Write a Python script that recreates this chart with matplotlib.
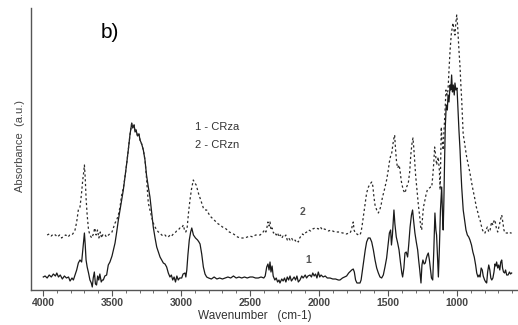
import matplotlib
matplotlib.use('Agg')
import matplotlib.pyplot as plt
from matplotlib.ticker import MultipleLocator

plt.rcParams['font.family'] = ['Liberation Sans', 'DejaVu Sans']

# 1 - CRza (solid), wavenumber (cm-1) / absorbance (a.u.)
crza = [
    (3998, 13), (3985, 14), (3970, 12), (3955, 15), (3940, 13), (3925, 16), (3910, 14),
    (3900, 17), (3888, 13), (3875, 15), (3860, 11), (3845, 14), (3830, 12), (3815, 13),
    (3804, 9), (3790, 12), (3780, 10), (3768, 15), (3756, 20), (3744, 27), (3732, 30),
    (3720, 28), (3712, 40), (3705, 50), (3700, 57), (3694, 45), (3688, 30), (3680, 23),
    (3670, 17), (3660, 10), (3650, 7), (3643, 3), (3636, 12), (3628, 18), (3620, 6),
    (3612, 5), (3604, 14), (3596, 10), (3588, 16), (3578, 8), (3570, 10), (3563, 10),
    (3552, 14), (3539, 15), (3527, 25), (3515, 28), (3500, 34), (3490, 40), (3478, 47),
    (3466, 58), (3454, 70), (3442, 80), (3430, 90), (3418, 100), (3406, 113), (3394, 126),
    (3382, 140), (3370, 155), (3357, 167), (3350, 162), (3340, 165), (3333, 158),
    (3326, 160), (3315, 154), (3305, 156), (3297, 150), (3285, 146), (3273, 140),
    (3261, 130), (3250, 115), (3237, 103), (3225, 93), (3213, 78), (3201, 63), (3188, 52),
    (3176, 43), (3164, 38), (3152, 33), (3140, 30), (3128, 27), (3116, 26), (3104, 23),
    (3092, 17), (3080, 13), (3070, 15), (3060, 10), (3050, 13), (3040, 8), (3030, 14),
    (3020, 10), (3010, 12), (2995, 12), (2985, 16), (2971, 17), (2965, 13), (2958, 20),
    (2950, 35), (2940, 50), (2930, 58), (2922, 62), (2910, 55), (2895, 52), (2880, 50),
    (2870, 48), (2862, 46), (2850, 36), (2838, 23), (2826, 16), (2814, 13), (2800, 12),
    (2780, 11), (2760, 13), (2740, 11), (2720, 12), (2700, 11), (2680, 12), (2660, 13),
    (2640, 12), (2620, 14), (2600, 12), (2580, 13), (2560, 12), (2540, 13), (2520, 12),
    (2500, 13), (2480, 13), (2460, 12), (2440, 12), (2420, 13), (2400, 12), (2390, 14),
    (2379, 23), (2370, 26), (2362, 20), (2355, 28), (2348, 18), (2340, 24), (2332, 14),
    (2320, 10), (2310, 12), (2300, 8), (2290, 10), (2283, 7), (2270, 11), (2260, 9),
    (2250, 12), (2240, 8), (2230, 13), (2220, 10), (2210, 14), (2200, 9), (2190, 11),
    (2180, 13), (2170, 10), (2160, 14), (2150, 8), (2138, 10), (2125, 14), (2115, 12),
    (2100, 15), (2090, 12), (2080, 14), (2065, 15), (2055, 13), (2045, 17), (2035, 14),
    (2025, 16), (2015, 12), (2005, 18), (1995, 13), (1985, 15), (1970, 13), (1955, 14),
    (1940, 12), (1920, 12), (1900, 11), (1880, 11), (1860, 10), (1848, 10), (1830, 12),
    (1815, 13), (1800, 14), (1785, 17), (1770, 19), (1763, 20), (1752, 21), (1744, 18),
    (1735, 10), (1725, 7), (1715, 7), (1703, 7), (1695, 10), (1685, 20), (1675, 30),
    (1665, 40), (1655, 48), (1643, 52), (1630, 52), (1618, 48), (1606, 40), (1594, 30),
    (1582, 22), (1570, 17), (1558, 13), (1546, 12), (1534, 15), (1522, 23), (1510, 32),
    (1498, 47), (1490, 57), (1481, 60), (1475, 45), (1468, 55), (1457, 80), (1450, 66),
    (1440, 53), (1430, 47), (1420, 40), (1410, 28), (1400, 17), (1394, 13), (1385, 22),
    (1377, 37), (1368, 38), (1358, 33), (1350, 45), (1340, 63), (1330, 75), (1322, 80),
    (1315, 70), (1305, 57), (1295, 48), (1285, 40), (1278, 30), (1270, 20), (1261, 7),
    (1254, 25), (1247, 30), (1238, 26), (1230, 27), (1222, 32), (1215, 35), (1208, 37),
    (1200, 30), (1192, 20), (1185, 12), (1176, 10), (1168, 40), (1160, 77), (1153, 60),
    (1148, 55), (1140, 30), (1135, 13), (1128, 40), (1120, 80), (1111, 103), (1105, 75),
    (1100, 60), (1095, 90), (1090, 130), (1085, 163), (1078, 185), (1070, 180),
    (1065, 195), (1058, 188), (1050, 205), (1045, 200), (1039, 215), (1033, 198),
    (1027, 205), (1020, 195), (1015, 207), (1008, 200), (1000, 202), (993, 180),
    (986, 160), (978, 140), (972, 120), (966, 103), (960, 90), (955, 80), (945, 70),
    (935, 60), (925, 55), (915, 53), (906, 50), (895, 45), (885, 38), (875, 33), (865, 25),
    (857, 17), (848, 13), (840, 15), (833, 13), (825, 22), (817, 20), (810, 14), (800, 10),
    (792, 8), (785, 7), (778, 18), (770, 25), (762, 20), (755, 12), (748, 10), (740, 12),
    (732, 18), (725, 26), (718, 24), (713, 28), (705, 22), (698, 25), (690, 20), (683, 28),
    (676, 30), (670, 22), (663, 18), (655, 17), (648, 20), (640, 15), (630, 15), (620, 18),
    (612, 16), (604, 17),
]

# 2 - CRzn (dashed)
crzn = [
    (3970, 55), (3955, 56), (3940, 54), (3925, 56), (3910, 55), (3895, 53), (3880, 55),
    (3865, 52), (3850, 54), (3835, 55), (3820, 53), (3805, 55), (3790, 55), (3780, 57),
    (3768, 60), (3756, 68), (3744, 80), (3732, 83), (3722, 95), (3712, 110), (3705, 118),
    (3700, 125), (3694, 112), (3688, 92), (3680, 75), (3670, 60), (3660, 55), (3647, 52),
    (3635, 56), (3625, 62), (3615, 55), (3605, 60), (3595, 52), (3585, 58), (3575, 52),
    (3565, 56), (3550, 55), (3540, 53), (3525, 55), (3510, 57), (3500, 58), (3490, 62),
    (3478, 67), (3466, 70), (3454, 75), (3442, 83), (3430, 95), (3418, 102), (3406, 113),
    (3394, 126), (3382, 140), (3370, 155), (3357, 167), (3350, 162), (3340, 165),
    (3333, 158), (3326, 160), (3315, 154), (3305, 156), (3297, 150), (3285, 146),
    (3273, 140), (3261, 130), (3250, 112), (3237, 87), (3225, 80), (3213, 73), (3201, 67),
    (3188, 63), (3176, 60), (3164, 58), (3152, 57), (3140, 55), (3128, 54), (3116, 55),
    (3104, 53), (3092, 53), (3080, 55), (3068, 54), (3056, 56), (3044, 57), (3032, 59),
    (3020, 60), (3008, 62), (2995, 62), (2983, 65), (2975, 60), (2965, 58), (2955, 63),
    (2945, 78), (2935, 90), (2925, 100), (2911, 110), (2900, 107), (2890, 105), (2880, 100),
    (2870, 95), (2862, 92), (2850, 87), (2838, 82), (2826, 80), (2814, 80), (2802, 77),
    (2790, 74), (2775, 72), (2760, 70), (2745, 68), (2730, 66), (2715, 65), (2700, 63),
    (2681, 62), (2665, 60), (2650, 58), (2635, 57), (2620, 56), (2609, 55), (2590, 53),
    (2570, 52), (2550, 52), (2536, 52), (2520, 53), (2500, 54), (2480, 53), (2460, 55),
    (2440, 55), (2427, 55), (2410, 57), (2395, 60), (2385, 58), (2378, 62), (2370, 68),
    (2362, 64), (2355, 68), (2348, 60), (2340, 62), (2330, 57), (2320, 58), (2310, 55),
    (2300, 57), (2290, 53), (2280, 55), (2270, 52), (2260, 54), (2250, 53), (2240, 55),
    (2230, 50), (2220, 52), (2210, 50), (2200, 52), (2190, 50), (2180, 51), (2170, 49),
    (2160, 50), (2150, 48), (2140, 52), (2130, 54), (2120, 56), (2110, 55), (2100, 57),
    (2089, 58), (2075, 60), (2060, 59), (2045, 61), (2030, 62), (2017, 62), (2005, 61),
    (1990, 63), (1975, 60), (1960, 61), (1945, 60), (1930, 59), (1915, 60), (1900, 59),
    (1885, 58), (1870, 58), (1848, 58), (1830, 57), (1815, 57), (1800, 56), (1785, 57),
    (1775, 57), (1765, 60), (1758, 65), (1752, 68), (1746, 60), (1738, 57), (1725, 56),
    (1715, 55), (1703, 55), (1695, 58), (1687, 65), (1679, 73), (1667, 85), (1655, 97),
    (1642, 103), (1630, 106), (1618, 108), (1610, 104), (1602, 93), (1594, 85), (1582, 80),
    (1570, 77), (1560, 80), (1550, 85), (1540, 93), (1530, 98), (1522, 103), (1510, 110),
    (1498, 120), (1490, 128), (1483, 133), (1473, 137), (1460, 150), (1452, 155),
    (1445, 140), (1438, 128), (1430, 122), (1420, 125), (1413, 120), (1405, 110),
    (1401, 107), (1390, 100), (1377, 97), (1365, 103), (1353, 107), (1343, 118),
    (1335, 135), (1325, 148), (1319, 152), (1312, 140), (1300, 115), (1290, 100),
    (1280, 85), (1270, 73), (1262, 62), (1256, 60), (1250, 72), (1243, 83), (1235, 88),
    (1225, 95), (1215, 100), (1200, 102), (1190, 103), (1183, 103), (1175, 115),
    (1168, 128), (1162, 143), (1155, 135), (1148, 125), (1140, 130), (1136, 133),
    (1128, 120), (1122, 100), (1118, 130), (1114, 163), (1108, 150), (1100, 140),
    (1094, 160), (1088, 175), (1080, 200), (1072, 195), (1065, 200), (1058, 220),
    (1050, 240), (1042, 255), (1035, 262), (1029, 267), (1022, 260), (1015, 255),
    (1008, 268), (1002, 275), (996, 265), (993, 257), (986, 240), (978, 223), (972, 205),
    (966, 190), (960, 170), (955, 155), (948, 150), (940, 142), (930, 133), (918, 125),
    (906, 117), (895, 108), (884, 100), (872, 92), (860, 83), (848, 77), (840, 72),
    (833, 70), (825, 65), (815, 60), (805, 57), (797, 57), (790, 60), (780, 63), (770, 58),
    (760, 60), (750, 68), (740, 65), (730, 70), (725, 70), (715, 62), (705, 58), (698, 62),
    (690, 67), (682, 72), (676, 75), (668, 68), (660, 60), (652, 57), (640, 57), (630, 57),
    (620, 58), (612, 57), (604, 57),
]

wn1, ab1 = zip(*crza)
wn2, ab2 = zip(*crzn)

fig = plt.figure(figsize=(5.18, 3.25), dpi=100)
ax = fig.add_axes([31 / 518, 35 / 325, 1 - 31 / 518, 282 / 325])

ax.plot(wn1, ab1, color='#1a1a1a', lw=0.9)
ax.plot(wn2, ab2, color='#2a2a2a', lw=0.9, dashes=(1.8, 2.0))

ax.set_xlim(4087, 558)
ax.set_ylim(0, 282)

# 只留左边和下边
ax.spines['top'].set_visible(False)
ax.spines['right'].set_visible(False)
for s in ('left', 'bottom'):
    ax.spines[s].set_color('#555555')
    ax.spines[s].set_linewidth(1.0)

ax.set_yticks([])
ax.xaxis.set_major_locator(MultipleLocator(500))
ax.xaxis.set_minor_locator(MultipleLocator(100))
ax.tick_params(axis='x', which='major', length=4, width=0.8, color='#555555',
               labelsize=7.5, labelcolor='#444444', pad=2)
ax.tick_params(axis='x', which='minor', length=2, width=0.6, color='#555555')
for lab in ax.get_xticklabels():
    lab.set_fontweight('bold')

fig.text(255 / 518, 1 - 316 / 325, 'Wavenumber   (cm-1)', ha='center', va='center',
         fontsize=8.5, color='#333333')
fig.text(20 / 518, 1 - 146 / 325, 'Absorbance  (a.u.)', rotation=90, ha='center',
         va='center', fontsize=8, color='#444444')

fig.text(101 / 518, 1 - 33 / 325, 'b)', ha='left', va='center', fontsize=15, color='black')
fig.text(195 / 518, 1 - 127 / 325, '1 - CRza', ha='left', va='center', fontsize=8,
         color='#333333')
fig.text(195 / 518, 1 - 145 / 325, '2 - CRzn', ha='left', va='center', fontsize=8,
         color='#333333')
fig.text(302 / 518, 1 - 212 / 325, '2', ha='center', va='center', fontsize=7.5,
         color='#555555', fontweight='bold')
fig.text(308 / 518, 1 - 260 / 325, '1', ha='center', va='center', fontsize=7.5,
         color='#555555', fontweight='bold')

fig.savefig('out.png', dpi=100)
